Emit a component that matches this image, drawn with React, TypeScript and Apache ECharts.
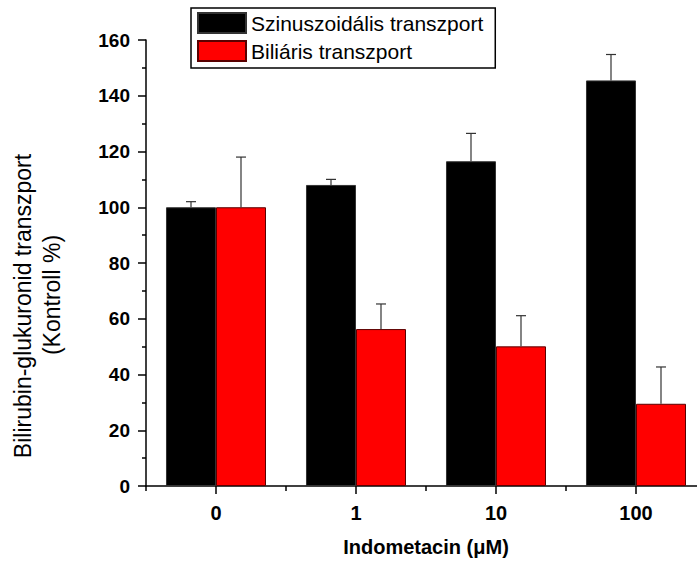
import React, { useEffect, useRef } from "react";
import * as echarts from "echarts";

const categories = ["0", "1", "10", "100"];
const sinusValues = [100, 108, 116.5, 145.5];
const sinusErrors = [2, 2, 10, 9.3];
const biliaryValues = [100, 56.3, 50.1, 29.5];
const biliaryErrors = [18, 9, 11, 13.2];
const yTicks = { min: 0, max: 160, interval: 20 };

const FONT = "Arial, 'Liberation Sans', Helvetica, sans-serif";
const CAT_GAP = 0.2857;

function errorSeries(name: string, values: number[], errors: number[], sign: number) {
  return {
    type: "custom",
    name,
    z: 5,
    silent: true,
    data: values.map((v, i) => [i, v, errors[i]]),
    encode: { x: 0, y: 1 },
    renderItem: (params: any, api: any) => {
      const idx = api.value(0);
      const v = api.value(1);
      const e = api.value(2);
      const band = api.size([1, 0])[0];
      const off = ((band * (1 - CAT_GAP)) / 4) * sign;
      const p0 = api.coord([idx, v]);
      const p1 = api.coord([idx, v + e]);
      const x = p0[0] + off;
      const style = { stroke: "#333", lineWidth: 1.2 };
      return {
        type: "group",
        children: [
          { type: "line", shape: { x1: x, y1: p0[1], x2: x, y2: p1[1] }, style },
          { type: "line", shape: { x1: x - 5, y1: p1[1], x2: x + 5, y2: p1[1] }, style },
        ],
      };
    },
  };
}

export default function App() {
  const ref = useRef<HTMLDivElement>(null);
  useEffect(() => {
    if (!ref.current) return;
    const chart = echarts.init(ref.current, null, { renderer: "svg" });
    chart.setOption({
      animation: false,
      backgroundColor: "#ffffff",
      textStyle: { fontFamily: FONT },
      grid: { left: 146, top: 40, bottom: 72, right: 0, containLabel: false },
      legend: {
        data: ["Szinuszoidális transzport", "Biliáris transzport"],
        orient: "vertical",
        left: 191,
        top: 8,
        itemWidth: 48,
        itemHeight: 20,
        itemGap: 6,
        padding: [4, 12, 6, 6],
        borderColor: "#000",
        borderWidth: 1.5,
        icon: "rect",
        textStyle: { fontFamily: FONT, fontSize: 21, color: "#000" },
      },
      xAxis: [
        {
          type: "category",
          data: categories,
          name: "Indometacin (μM)",
          nameLocation: "middle",
          nameGap: 51,
          nameTextStyle: { fontFamily: FONT, fontSize: 20, fontWeight: "bold", color: "#000" },
          axisLine: { show: true, lineStyle: { color: "#000", width: 1.5 } },
          axisTick: { show: true, alignWithLabel: true, length: 8, lineStyle: { color: "#000", width: 1.5 } },
          axisLabel: { margin: 17, fontFamily: FONT, fontSize: 20, fontWeight: "bold", color: "#000" },
        },
        {
          type: "category",
          data: categories,
          position: "bottom",
          axisLine: { show: false },
          axisTick: { show: true, alignWithLabel: false, length: 5, lineStyle: { color: "#000", width: 1.5 } },
          axisLabel: { show: false },
        },
      ],
      yAxis: {
        type: "value",
        min: yTicks.min,
        max: yTicks.max,
        interval: yTicks.interval,
        axisLine: { show: true, lineStyle: { color: "#000", width: 1.5 } },
        axisTick: { show: true, length: 8, lineStyle: { color: "#000", width: 1.5 } },
        minorTick: { show: true, splitNumber: 2, length: 4, lineStyle: { color: "#000", width: 1.5 } },
        splitLine: { show: false },
        axisLabel: { margin: 16, fontFamily: FONT, fontSize: 19, fontWeight: "bold", color: "#000" },
      },
      graphic: [
        {
          type: "text",
          x: 23,
          y: 306,
          rotation: Math.PI / 2,
          style: {
            text: "Bilirubin-glukuronid transzport",
            font: `23px ${FONT}`,
            fill: "#000",
            textAlign: "center",
            textVerticalAlign: "middle",
          },
        },
        {
          type: "text",
          x: 52,
          y: 295,
          rotation: Math.PI / 2,
          style: {
            text: "(Kontroll %)",
            font: `23px ${FONT}`,
            fill: "#000",
            textAlign: "center",
            textVerticalAlign: "middle",
          },
        },
      ],
      series: [
        {
          type: "bar",
          name: "Szinuszoidális transzport",
          data: sinusValues,
          barGap: "0%",
          barCategoryGap: "28.57%",
          itemStyle: { color: "#000000", borderColor: "#333", borderWidth: 1 },
        },
        {
          type: "bar",
          name: "Biliáris transzport",
          data: biliaryValues,
          barGap: "0%",
          barCategoryGap: "28.57%",
          itemStyle: { color: "#ff0000", borderColor: "#5a0000", borderWidth: 1 },
        },
        errorSeries("sinusErr", sinusValues, sinusErrors, -1),
        errorSeries("biliaryErr", biliaryValues, biliaryErrors, 1),
      ],
    });
    return () => chart.dispose();
  }, []);
  return (
    <div
      style={{ position: "fixed", left: 0, top: 0, width: 697, height: 562, overflow: "hidden", background: "#fff" }}
    >
      <div ref={ref} style={{ width: 706, height: 562 }} />
    </div>
  );
}
